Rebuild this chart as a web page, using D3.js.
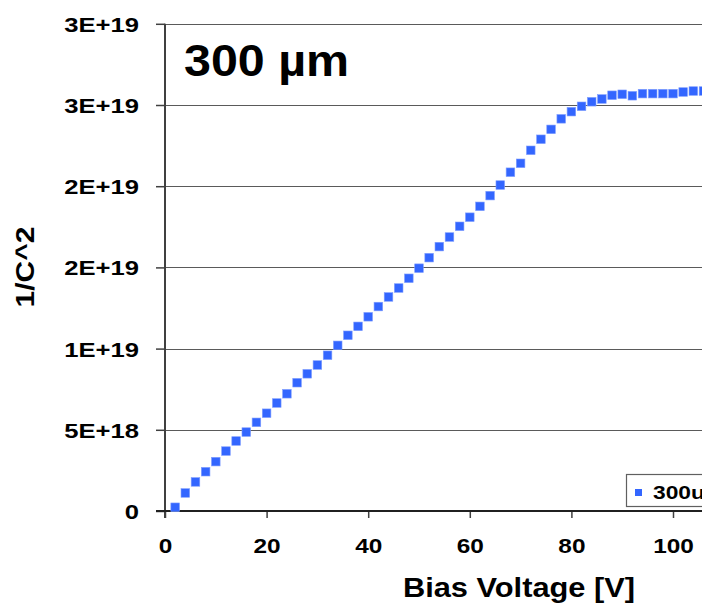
<!DOCTYPE html>
<html>
<head>
<meta charset="utf-8">
<script src="https://cdn.jsdelivr.net/npm/d3@7"></script>
<style>
  html, body { margin: 0; padding: 0; background: #fff; }
  svg { display: block; }
  text { font-family: "Liberation Sans", Arial, sans-serif; font-weight: bold; fill: #000; }
</style>
</head>
<body>
<svg id="chart" width="702" height="603"></svg>
<script>
// Bias voltage sweep [V]
const voltages = [2, 4, 6, 8, 10, 12, 14, 16, 18, 20, 22, 24, 26, 28, 30, 32, 34, 36, 38, 40,
  42, 44, 46, 48, 50, 52, 54, 56, 58, 60, 62, 64, 66, 68, 70, 72, 74, 76, 78, 80,
  82, 84, 86, 88, 90, 92, 94, 96, 98, 100, 102, 104, 106];
// 1/C^2 values, in units of 1e18
const invC2 = [0.23, 1.11, 1.79, 2.42, 3.04, 3.69, 4.31, 4.86, 5.46, 6.02, 6.65, 7.22, 7.90, 8.45, 8.99,
  9.59, 10.20, 10.82, 11.37, 11.96, 12.59, 13.18, 13.73, 14.33, 14.95, 15.60, 16.28, 16.87, 17.53, 18.09,
  18.76, 19.42, 20.07, 20.86, 21.41, 22.21, 22.89, 23.50, 24.15, 24.59, 24.92, 25.20, 25.37, 25.60, 25.66,
  25.57, 25.70, 25.70, 25.70, 25.70, 25.80, 25.86, 25.86];
const seriesName = "300um";
const xTicks = [0, 20, 40, 60, 80, 100];
const yTicks = [0, 5e18, 1e19, 1.5e19, 2e19, 2.5e19, 3e19];
const yTickLabels = ["0", "5E+18", "1E+19", "2E+19", "2E+19", "3E+19", "3E+19"];

const svg = d3.select("#chart");
const W = 702, H = 603;
// text in this chart is drawn with a slightly widened face
const widen = 1.22;

const x = d3.scaleLinear().domain([0, 110]).range([165, 165 + 110 * 5.08]);
const y = d3.scaleLinear().domain([0, 3e19]).range([511, 23.8]);

// horizontal gridlines
svg.append("g").selectAll("line").data(yTicks.slice(1)).join("line")
  .attr("x1", x(0)).attr("x2", W + 10)
  .attr("y1", d => Math.round(y(d)) + 0.5).attr("y2", d => Math.round(y(d)) + 0.5)
  .attr("stroke", "#5a5a5a").attr("stroke-width", 1.2);

// y axis
const yAxis = d3.axisLeft(y).tickValues(yTicks).tickSize(9)
  .tickFormat((d, i) => yTickLabels[i]).tickPadding(17);
const gy = svg.append("g").attr("transform", `translate(${x(0)},0)`).call(yAxis);
gy.select(".domain").remove();
gy.selectAll(".tick line").attr("stroke", "#404040").attr("stroke-width", 1.5);
gy.selectAll(".tick text").style("font-size", "21px").attr("dy", "0.36em")
  .attr("x", -26 / widen).attr("transform", `scale(${widen},1)`);
gy.append("line").attr("x1", 0).attr("x2", 0).attr("y1", y(3e19)).attr("y2", 518)
  .attr("stroke", "#404040").attr("stroke-width", 2);

// x axis
const xAxis = d3.axisBottom(x).tickValues(xTicks).tickSize(7).tickPadding(21);
const gx = svg.append("g").attr("transform", `translate(0,${y(0)})`).call(xAxis);
gx.select(".domain").remove();
gx.selectAll(".tick line").attr("stroke", "#404040").attr("stroke-width", 1.5);
gx.selectAll(".tick text").style("font-size", "20px").attr("transform", `scale(${widen},1)`);
gx.append("line").attr("x1", 156).attr("x2", W + 10).attr("y1", 0).attr("y2", 0)
  .attr("stroke", "#202020").attr("stroke-width", 2);

// markers
const ms = 8.6;
svg.append("g").selectAll("rect").data(voltages.map((v, i) => [v, invC2[i] * 1e18])).join("rect")
  .attr("x", d => x(d[0]) - ms / 2).attr("y", d => y(d[1]) - ms / 2)
  .attr("width", ms).attr("height", ms)
  .attr("fill", "#3366ff").attr("stroke", "#7f9dff").attr("stroke-width", 0.6);

// annotation
svg.append("text").attr("transform", "translate(184,76) scale(1.1,1)")
  .style("font-size", "44px").text("300 µm");

// axis titles
svg.append("text").attr("transform", "translate(519,597) scale(1.1,1)").attr("text-anchor", "middle")
  .style("font-size", "28px").text("Bias Voltage [V]");
svg.append("text").attr("transform", "translate(34,267) rotate(-90) scale(1.2,1)").attr("text-anchor", "middle")
  .style("font-size", "25px").text("1/C^2");

// legend
const lg = svg.append("g").attr("transform", "translate(626,474)");
lg.append("rect").attr("x", 0.5).attr("y", 0.5).attr("width", 120).attr("height", 32)
  .attr("fill", "#fff").attr("stroke", "#606060").attr("stroke-width", 1.2);
lg.append("rect").attr("x", 9).attr("y", 15).attr("width", 7).attr("height", 7).attr("fill", "#3366ff");
lg.append("text").attr("transform", "translate(27,25) scale(1.2,1)").style("font-size", "19px").text(seriesName);
</script>
</body>
</html>
